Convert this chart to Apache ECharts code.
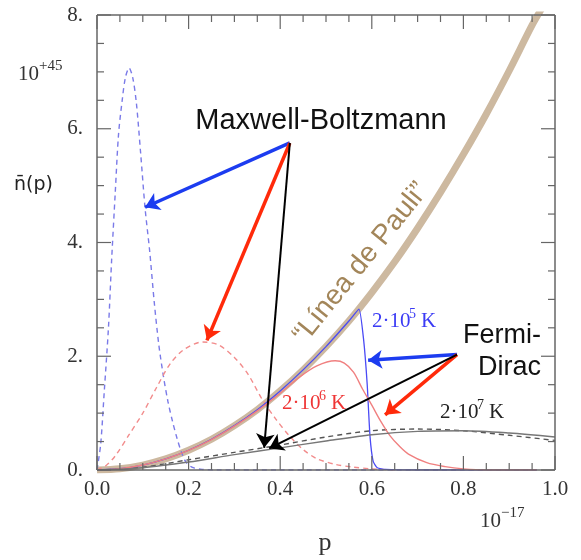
<!DOCTYPE html>
<html><head><meta charset="utf-8">
<script src="https://cdn.jsdelivr.net/npm/echarts@6/dist/echarts.min.js"></script>
<style>html,body{margin:0;padding:0;background:#fff}#c{width:581px;height:560px}</style>
</head><body><div id="c"></div>
<script>
// ---- data (p in 1e-17, n in 1e45) ----
const pauliP = [0, 0.05, 0.1, 0.15, 0.2, 0.25, 0.3, 0.35, 0.4, 0.45, 0.5, 0.55, 0.6, 0.65, 0.7, 0.75, 0.8, 0.85, 0.9, 0.95, 0.97];
const pauliN = [0, 0.022, 0.087, 0.195, 0.347, 0.54, 0.78, 1.06, 1.39, 1.76, 2.17, 2.62, 3.12, 3.66, 4.25, 4.88, 5.55, 6.26, 7.02, 7.82, 8.1];

const mbBlueP = [0, 0.008, 0.016, 0.025, 0.032, 0.04, 0.047, 0.055, 0.062, 0.07, 0.078, 0.086, 0.095, 0.105, 0.115, 0.125, 0.135, 0.145, 0.155, 0.165, 0.175, 0.185, 0.195, 0.21, 0.23, 0.26, 0.4, 0.6, 0.8, 0.96];
const mbBlueN = [0, 0.45, 1.4, 2.5, 3.7, 4.9, 5.9, 6.5, 6.9, 7.07, 6.9, 6.45, 5.6, 4.6, 3.85, 2.95, 2.2, 1.65, 1.2, 0.85, 0.55, 0.3, 0.13, 0.04, 0.01, 0, 0, 0, 0, 0];

const mbRedP = [0, 0.02, 0.04, 0.07, 0.1, 0.13, 0.16, 0.19, 0.23, 0.265, 0.3, 0.33, 0.36, 0.39, 0.42, 0.45, 0.48, 0.52, 0.56, 0.6, 0.65];
const mbRedN = [0, 0.08, 0.25, 0.62, 1.0, 1.45, 1.87, 2.12, 2.25, 2.2, 1.98, 1.68, 1.25, 0.9, 0.6, 0.36, 0.2, 0.1, 0.05, 0.02, 0];

const mbBlackP = [0, 0.1, 0.2, 0.3, 0.4, 0.5, 0.6, 0.7, 0.8, 0.9, 1.0];
const mbBlackN = [0, 0.05, 0.18, 0.31, 0.44, 0.58, 0.69, 0.72, 0.69, 0.61, 0.52];

const fdBlueP = [0, 0.05, 0.1, 0.15, 0.2, 0.25, 0.3, 0.35, 0.4, 0.45, 0.5, 0.55, 0.572, 0.582, 0.59, 0.596, 0.603, 0.612, 0.63, 0.7, 0.8, 0.96];
const fdBlueN = [0, 0.022, 0.087, 0.195, 0.347, 0.54, 0.78, 1.06, 1.39, 1.76, 2.17, 2.62, 2.83, 2.3, 1.5, 0.6, 0.15, 0.04, 0.01, 0, 0, 0];

const fdRedP = [0, 0.05, 0.1, 0.15, 0.2, 0.25, 0.3, 0.35, 0.4, 0.44, 0.48, 0.52, 0.54, 0.56, 0.58, 0.6, 0.62, 0.64, 0.66, 0.68, 0.72, 0.76, 0.8, 0.85, 0.96];
const fdRedN = [0, 0.022, 0.087, 0.195, 0.345, 0.535, 0.77, 1.04, 1.35, 1.62, 1.83, 1.92, 1.88, 1.72, 1.42, 1.14, 0.85, 0.6, 0.42, 0.28, 0.13, 0.06, 0.02, 0, 0];

const fdBlackP = [0, 0.1, 0.2, 0.3, 0.4, 0.5, 0.6, 0.7, 0.8, 0.9, 1.0];
const fdBlackN = [0, 0.04, 0.14, 0.27, 0.39, 0.51, 0.62, 0.68, 0.69, 0.65, 0.58];

// annotation arrows (data coords)
const mbFrom = [0.421, 5.75];
const mbTips = [[0.105, 4.62], [0.24, 2.28], [0.365, 0.39]];
const fdFrom = [0.786, 2.03];
const fdTips = [[0.592, 1.93], [0.629, 0.97], [0.376, 0.38]];

// ticks
const xTicks = ['0.0', '0.2', '0.4', '0.6', '0.8', '1.0'];
const yTicks = ['0.', '2.', '4.', '6.', '8.'];
const xMajor = [0, 0.2, 0.4, 0.6, 0.8, 1.0];
const xMinor = [0.05, 0.1, 0.15, 0.25, 0.3, 0.35, 0.45, 0.5, 0.55, 0.65, 0.7, 0.75, 0.85, 0.9, 0.95];
const yMajor = [0, 2, 4, 6, 8];
const yMinor = [0.5, 1, 1.5, 2.5, 3, 3.5, 4.5, 5, 5.5, 6.5, 7, 7.5];

// ---- chart ----
const X0 = 0, X1 = 1, Y0 = 0, Y1 = 8;
const zip = (a, b) => a.map((v, i) => [v, b[i]]);
const chart = echarts.init(document.getElementById('c'), null, {renderer: 'canvas'});
const serif = 'Liberation Serif, serif';
const sans = 'Liberation Sans, sans-serif';
const frame = '#666';

function line(P, N, color, width, dashed, z, smooth) {
  return {
    type: 'line', data: zip(P, N), showSymbol: false, symbol: 'none',
    smooth: smooth === undefined ? 0.3 : smooth, z: z,
    lineStyle: {color: color, width: width, type: dashed ? [5, 4] : 'solid'}
  };
}
function arrows(from, tips, styles) {
  return tips.map((t, i) => [
    {coord: from, lineStyle: styles[i], symbolSize: styles[i].size},
    {coord: t}
  ]);
}
const arrowStyles = [
  {color: '#1c3cf0', width: 3.5, type: 'solid', size: 15},
  {color: '#ff2a0a', width: 3.5, type: 'solid', size: 15},
  {color: '#000', width: 2, type: 'solid', size: 12}
];

function txt(x, y, text, font, color, align) {
  return {type: 'text', x: x, y: y, z: 20,
    style: {text: text, font: font, fill: color, align: align || 'left', verticalAlign: 'middle'}};
}

chart.setOption({
  animation: false,
  tooltip: {show: false},
  grid: {left: 97, right: 26, top: 15, bottom: 90},
  xAxis: {
    type: 'value', min: X0, max: X1, interval: 0.2,
    axisLine: {show: false}, axisTick: {show: false}, splitLine: {show: false},
    axisLabel: {fontFamily: serif, fontSize: 21, color: '#333', margin: 9,
      formatter: v => xTicks[Math.round(v / 0.2)] || ''}
  },
  yAxis: {
    type: 'value', min: Y0, max: Y1, interval: 2,
    axisLine: {show: false}, axisTick: {show: false}, splitLine: {show: false},
    axisLabel: {fontFamily: serif, fontSize: 21, color: '#333', margin: 14,
      formatter: v => yTicks[Math.round(v / 2)] || ''}
  },
  series: [
    line(pauliP, pauliN, '#cdb9a0', 7, false, 1),
    line(mbBlueP, mbBlueN, '#7a7ae8', 1.4, true, 3),
    line(mbRedP, mbRedN, '#f28c8c', 1.4, true, 3),
    line(mbBlackP, mbBlackN, '#555', 1.4, true, 3),
    line(fdBlueP, fdBlueN, '#4a4af5', 1.3, false, 4, 0.15),
    line(fdRedP, fdRedN, '#f08080', 1.4, false, 4),
    line(fdBlackP, fdBlackN, '#777', 1.4, false, 4),
    {
      type: 'line', data: [], z: 10,
      markLine: {
        silent: true, animation: false,
        symbol: ['none', 'arrow'], symbolSize: 14,
        label: {show: false},
        data: arrows(mbFrom, mbTips, arrowStyles).concat(arrows(fdFrom, fdTips, arrowStyles))
      }
    }
  ]
});

// frame and ticks, placed through the chart's own axis scales
const px = (x, y) => chart.convertToPixel({gridIndex: 0}, [x, y]);
const axisMarks = [];
const tickStyle = {stroke: frame, lineWidth: 1.2};
function seg(x1, y1, x2, y2, st) {
  axisMarks.push({type: 'line', z: 100, shape: {x1: x1, y1: y1, x2: x2, y2: y2}, style: st});
}
const bl = px(X0, Y0), tr = px(X1, Y1);
[[xMajor, 14], [xMinor, 7]].forEach(([arr, len]) => arr.forEach(v => {
  const b = px(v, Y0), t = px(v, Y1);
  seg(b[0], b[1], b[0], b[1] - len, tickStyle);
  seg(t[0], t[1], t[0], t[1] + len, tickStyle);
}));
[[yMajor, 14], [yMinor, 7]].forEach(([arr, len]) => arr.forEach(v => {
  const l = px(X0, v), r = px(X1, v);
  seg(l[0], l[1], l[0] + len, l[1], tickStyle);
  seg(r[0], r[1], r[0] - len, r[1], tickStyle);
}));
const frameStyle = {stroke: frame, lineWidth: 1.5};
seg(bl[0], bl[1], tr[0], bl[1], frameStyle);
seg(bl[0], tr[1], tr[0], tr[1], frameStyle);
seg(bl[0], bl[1], bl[0], tr[1], frameStyle);
seg(tr[0], bl[1], tr[0], tr[1], frameStyle);

const texts = [
  txt(321, 121, 'Maxwell-Boltzmann', '29px ' + sans, '#111', 'center'),
  txt(541, 336, 'Fermi-', '27px ' + sans, '#111', 'right'),
  txt(541, 368, 'Dirac', '27px ' + sans, '#111', 'right'),
  {type: 'text', x: 361, y: 263, rotation: 51 * Math.PI / 180, z: 20,
    style: {text: '\u201CLínea de Pauli\u201D', font: '28px ' + sans, fill: '#a3865a', align: 'center', verticalAlign: 'middle'}},
  txt(372, 321, '2·10', '21px ' + serif, '#3b3bf5'),
  txt(409, 314, '5', '14px ' + serif, '#3b3bf5'),
  txt(421, 321, 'K', '21px ' + serif, '#3b3bf5'),
  txt(282, 403, '2·10', '21px ' + serif, '#ef3535'),
  txt(319, 396, '6', '14px ' + serif, '#ef3535'),
  txt(331, 403, 'K', '21px ' + serif, '#ef3535'),
  txt(440, 412, '2·10', '21px ' + serif, '#222'),
  txt(477, 405, '7', '14px ' + serif, '#222'),
  txt(489, 412, 'K', '21px ' + serif, '#222'),
  txt(18, 74, '10', '21px ' + serif, '#333'),
  txt(39, 66, '+45', '15px ' + serif, '#333'),
  txt(480, 521, '10', '21px ' + serif, '#333'),
  txt(501, 513, '\u221217', '15px ' + serif, '#333'),
  txt(325, 543, 'p', '26px ' + serif, '#333', 'center'),
  txt(14, 185, 'n\u0304(p)', '19px DejaVu Sans, sans-serif', '#222')
];
chart.setOption({graphic: {elements: axisMarks.concat(texts)}});
</script>
</body></html>
